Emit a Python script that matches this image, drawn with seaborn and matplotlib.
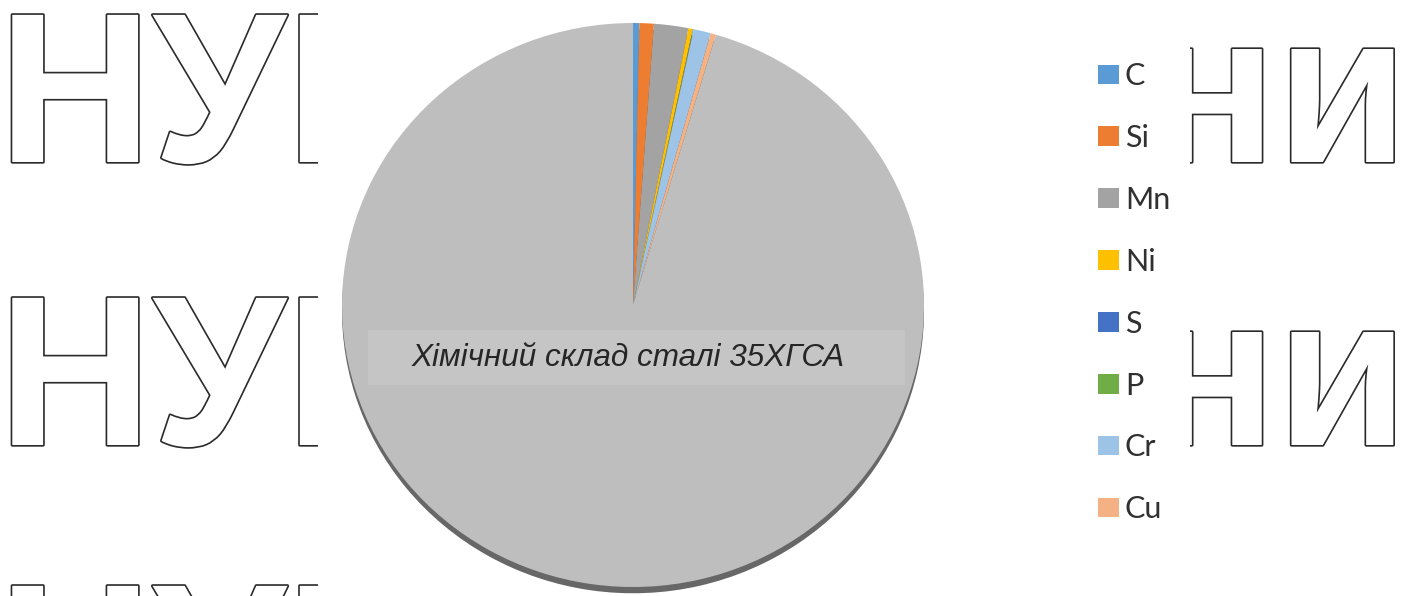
import matplotlib
matplotlib.use("Agg")
import matplotlib.pyplot as plt
import matplotlib.patheffects as pe
from matplotlib.patches import Rectangle
import seaborn as sns

# Chemical composition of steel 35ХГСА, mass %
elements = ["C", "Si", "Mn", "Ni", "S", "P", "Cr", "Cu", "Fe"]
content = [0.35, 0.8, 1.9, 0.25, 0.025, 0.025, 0.95, 0.3, 95.4]
legend_elements = elements[:8]
title_text = "Хімічний склад сталі 35ХГСА"
watermark_left = "НУБіП"
watermark_right = "України"

palette = sns.color_palette(["#5B9BD5", "#ED7D31", "#A3A3A3", "#FFC000",
                             "#4472C4", "#70AD47", "#9DC3E6", "#F4B183",
                             "#BEBEBE"])

sns.set_theme(style="white")
plt.rcParams["font.family"] = ["DejaVu Sans"]

W, H = 1410, 596
fig = plt.figure(figsize=(W / 100, H / 100), dpi=100)
fig.patch.set_facecolor("white")

# outlined watermark lettering behind the chart area
outline = [pe.withStroke(linewidth=2.4, foreground="#2a2a2a", joinstyle="round")]
wm_font = ["Liberation Sans", "DejaVu Sans"]
for base in (162, 445, 733):
    fig.text(-2 / W, 1 - base / H, watermark_left, ha="left", va="baseline",
             fontsize=154, fontweight="bold", family=wm_font, color="white",
             path_effects=outline, zorder=0.5)
    fig.text(1408 / W, 1 - base / H, watermark_right, ha="right", va="baseline",
             fontsize=154, fontweight="bold", family=wm_font, color="white",
             path_effects=outline, zorder=0.5)

# white chart area
bg = fig.add_axes([318 / W, 0, (1190 - 318) / W, 1], zorder=1)
bg.set_facecolor("white")
bg.set_xticks([])
bg.set_yticks([])
for s in bg.spines.values():
    s.set_visible(False)

# pie
cx, cy, rx, ry = 633, 305, 291, 282
ax = fig.add_axes([(cx - rx) / W, (H - cy - ry) / H, 2 * rx / W, 2 * ry / H],
                  zorder=2)
wedges, _ = ax.pie(content, colors=palette, startangle=90, counterclock=False,
                   wedgeprops=dict(linewidth=0),
                   shadow=dict(ox=0, oy=-0.016, shade=0.55, alpha=0.9))
ax.set_aspect("auto")
ax.set_xlim(-1, 1)
ax.set_ylim(-1, 1)
ax.set_facecolor("none")
for s in ax.spines.values():
    s.set_visible(False)
for c in ax.get_children():
    try:
        c.set_clip_on(False)
    except Exception:
        pass

# label band and title inside the pie
fig.patches.append(Rectangle((368 / W, 1 - 385 / H), (905 - 368) / W, 55 / H,
                             transform=fig.transFigure, facecolor="#C5C5C5",
                             edgecolor="none", zorder=2.5))
fig.text(628 / W, 1 - 358 / H, title_text, ha="center", va="center",
         fontsize=22.7, style="italic", family=["Liberation Sans", "DejaVu Sans"],
         color="#262626", zorder=3)

# legend
leg = ax.legend(wedges[:8], legend_elements, loc="upper left",
                bbox_to_anchor=(1098 / W, 1 - 62 / H),
                bbox_transform=fig.transFigure, frameon=False,
                prop={"family": ["Lato", "DejaVu Sans"], "size": 22},
                handlelength=0.68, handleheight=0.6, handletextpad=0.2,
                labelspacing=1.11, borderpad=0, borderaxespad=0)
for t in leg.get_texts():
    t.set_color("#303030")

fig.savefig("out.png", dpi=100, facecolor="white")
